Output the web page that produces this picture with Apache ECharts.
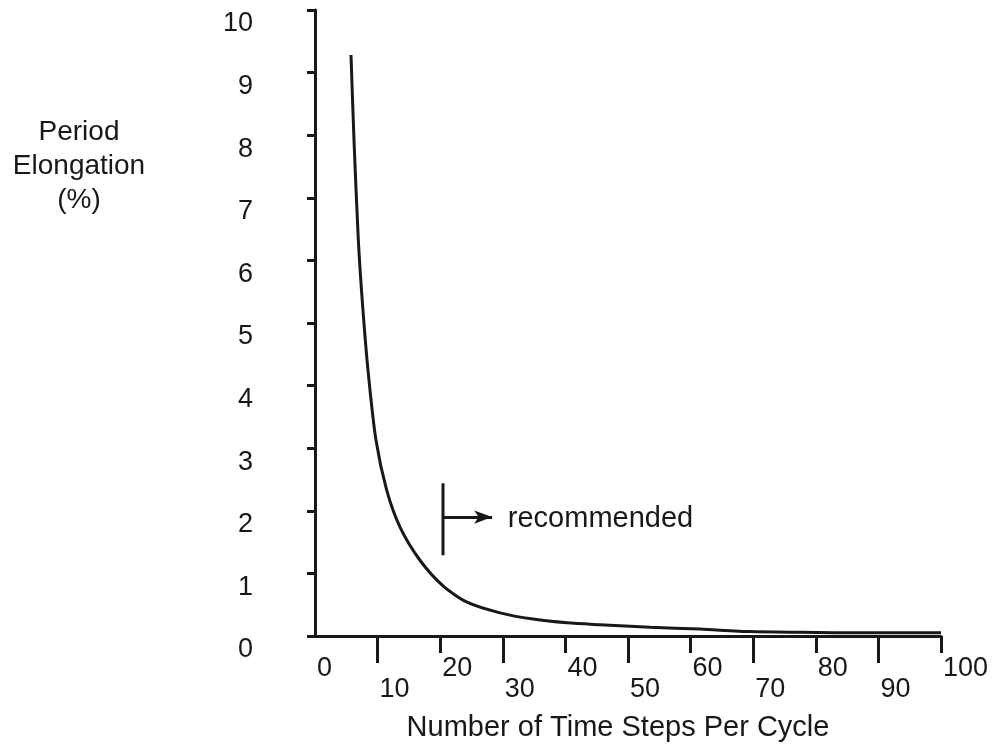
<!DOCTYPE html>
<html>
<head>
<meta charset="utf-8">
<script src="https://cdn.jsdelivr.net/npm/echarts@6/dist/echarts.min.js"></script>
<style>
  html, body { margin: 0; padding: 0; background: #fff; }
  #chart { width: 993px; height: 744px; }
</style>
</head>
<body>
<div id="chart"></div>
<script>
// curve
var stepsX = [5.75, 6.23, 6.92, 7.62, 8.51, 9.74, 11.45, 13.58, 16.77, 20.45, 24.28, 29.55, 34.82, 40.26, 45.53, 53.51, 61.5, 69.5, 77.5, 88.7, 100];
var elongY = [9.28, 7.92, 6.33, 5.26, 4.2, 3.13, 2.33, 1.74, 1.21, 0.8, 0.54, 0.37, 0.27, 0.21, 0.18, 0.14, 0.11, 0.07, 0.06, 0.05, 0.05];

// tick labels
var yTicks = [0, 1, 2, 3, 4, 5, 6, 7, 8, 9, 10];
var xOddTicks = [10, 30, 50, 70, 90];
var xEvenTicks = [20, 40, 60, 80, 100];
var xEvenLabels = [0, 20, 40, 60, 80, 100];

// "recommended" marker
var recX = [20.45];
var recBarY = [2.44, 1.29];
var recArrowY = [1.9];
var recArrowEnd = [28.3];
var recTextX = [30.8];

var ink = "#1a1718";
var font = "'Liberation Sans', Arial, sans-serif";

var chart = echarts.init(document.getElementById("chart"));

var option = {
  backgroundColor: "#fff",
  animation: false,
  grid: {
    left: 315,
    right: 52,
    top: 10,
    bottom: 108,
    containLabel: false,
    outerBoundsMode: "none",
  },
  graphic: [
    {
      type: "text",
      x: 79,
      y: 115,
      style: {
        text: "Period\nElongation\n(%)",
        align: "center",
        verticalAlign: "top",
        font: "28px " + font,
        lineHeight: 34,
        fill: ink,
      },
    },
  ],
  xAxis: [
    {
      // odd ticks: long, labels in lower row
      type: "value",
      min: 0,
      max: 100,
      position: "bottom",
      splitLine: { show: false },
      axisLine: { show: true, lineStyle: { color: ink, width: 3 } },
      axisTick: {
        show: true,
        customValues: xOddTicks,
        length: 27,
        lineStyle: { color: ink, width: 3 },
      },
      axisLabel: {
        customValues: xOddTicks,
        margin: 40,
        align: "left",
        padding: [0, 0, 0, 2],
        color: ink,
        fontFamily: font,
        fontSize: 27,
      },
      name: "Number of Time Steps Per Cycle",
      nameLocation: "middle",
      nameGap: 77,
      nameTextStyle: {
        color: ink,
        fontFamily: font,
        fontSize: 29,
        padding: [0, 20, 0, 0],
      },
    },
    {
      // even ticks: short, labels in upper row
      type: "value",
      min: 0,
      max: 100,
      position: "bottom",
      splitLine: { show: false },
      axisLine: { show: false },
      axisTick: {
        show: true,
        customValues: xEvenTicks,
        length: 17,
        lineStyle: { color: ink, width: 3 },
      },
      axisLabel: {
        customValues: xEvenLabels,
        margin: 19,
        align: "left",
        padding: [0, 0, 0, 2],
        color: ink,
        fontFamily: font,
        fontSize: 27,
      },
    },
  ],
  yAxis: {
    type: "value",
    min: 0,
    max: 10,
    interval: 1,
    splitLine: { show: false },
    axisLine: { show: true, lineStyle: { color: ink, width: 3 } },
    axisTick: {
      show: true,
      length: 8,
      lineStyle: { color: ink, width: 3 },
    },
    axisLabel: {
      customValues: yTicks,
      margin: 62,
      verticalAlign: "top",
      lineHeight: 28,
      color: ink,
      fontFamily: font,
      fontSize: 27,
    },
  },
  series: [
    {
      name: "curve",
      type: "line",
      data: stepsX.map(function (x, i) {
        return [x, elongY[i]];
      }),
      smooth: 0.25,
      showSymbol: false,
      symbol: "none",
      lineStyle: { color: ink, width: 3 },
      z: 3,
    },
    {
      name: "recBar",
      type: "line",
      data: recBarY.map(function (y) {
        return [recX[0], y];
      }),
      showSymbol: false,
      symbol: "none",
      lineStyle: { color: ink, width: 3 },
      markLine: {
        silent: true,
        symbol: ["none", "arrow"],
        symbolSize: [10, 18],
        label: { show: false },
        lineStyle: { color: ink, width: 3, type: "solid" },
        data: [
          [
            { coord: [recX[0], recArrowY[0]] },
            { coord: [recArrowEnd[0], recArrowY[0]] },
          ],
        ],
      },
    },
    {
      name: "recText",
      type: "scatter",
      data: [[recTextX[0], recArrowY[0]]],
      symbolSize: 0,
      itemStyle: { opacity: 1 },
      label: {
        show: true,
        position: "right",
        distance: 0,
        offset: [0, 2],
        formatter: "recommended",
        color: ink,
        opacity: 1,
        fontFamily: font,
        fontSize: 29,
      },
    },
  ],
};
chart.setOption(option);
</script>
</body>
</html>
